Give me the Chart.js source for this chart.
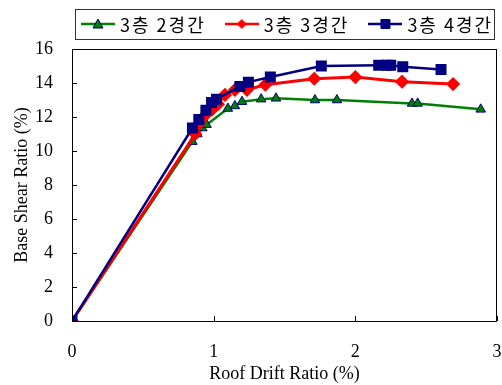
<!DOCTYPE html>
<html>
<head>
<meta charset="utf-8">
<script src="https://cdn.jsdelivr.net/npm/chart.js@4.4.0/dist/chart.umd.min.js"></script>
<style>
  html, body { margin: 0; padding: 0; background: #fff; }
  #wrap { width: 502px; height: 385px; }
</style>
</head>
<body>
<div id="wrap"><canvas id="chart"></canvas></div>
<script>
// 3층 2경간
const drift2 = [0, 0.85, 0.885, 0.92, 0.95, 1.10, 1.15, 1.20, 1.335, 1.44, 1.715, 1.87, 2.40, 2.44, 2.885];
const shear2 = [0, 10.55, 11.0, 11.35, 11.55, 12.5, 12.65, 12.9, 13.05, 13.1, 13.0, 13.0, 12.8, 12.8, 12.45];
// 3층 3경간
const drift3 = [0, 0.87, 0.895, 0.94, 0.99, 1.03, 1.08, 1.15, 1.235, 1.365, 1.71, 2.0, 2.33, 2.69];
const shear3 = [0, 11.0, 11.6, 12.1, 12.45, 12.75, 13.3, 13.6, 13.6, 13.9, 14.25, 14.35, 14.08, 13.94];
// 3층 4경간
const drift4 = [0, 0.85, 0.895, 0.945, 0.985, 1.02, 1.185, 1.245, 1.40, 1.76, 2.165, 2.225, 2.25, 2.335, 2.605];
const shear4 = [0, 11.35, 11.85, 12.4, 12.85, 13.05, 13.8, 14.05, 14.35, 15.0, 15.05, 15.05, 15.05, 14.95, 14.8];

const seriesLabels = ['3층 2경간', '3층 3경간', '3층 4경간'];
const xTicks = [0, 1, 2, 3];
const yTicks = [0, 2, 4, 6, 8, 10, 12, 14, 16];

const toPoints = (xs, ys) => xs.map((x, i) => ({ x: x, y: ys[i] }));

// line + marker picture for the legend
function legendIcon(color, fill, style) {
    const c = document.createElement('canvas');
    c.width = 34; c.height = 14;
    const g = c.getContext('2d');
    g.strokeStyle = color;
    g.lineWidth = 2.5;
    g.beginPath(); g.moveTo(0, 7); g.lineTo(34, 7); g.stroke();
    g.fillStyle = fill;
    g.strokeStyle = '#000080';
    g.lineWidth = 1;
    g.beginPath();
    if (style === 'triangle') {
        g.moveTo(17, 2); g.lineTo(22, 11); g.lineTo(12, 11); g.closePath();
    } else if (style === 'rectRot') {
        g.strokeStyle = color;
        g.moveTo(17, 2.5); g.lineTo(21.5, 7); g.lineTo(17, 11.5); g.lineTo(12.5, 7); g.closePath();
    } else {
        g.rect(12.5, 2.5, 9, 9);
    }
    g.fill(); g.stroke();
    return c;
}

const icons = [
    legendIcon('#008000', '#008000', 'triangle'),
    legendIcon('#ff0000', '#ff0000', 'rectRot'),
    legendIcon('#000080', '#000080', 'rect')
];

// plot frame, inward ticks and the boxed legend row
const frame = {
    id: 'frame',
    afterDraw(chart) {
        const { ctx, chartArea: a, scales } = chart;
        ctx.save();
        ctx.strokeStyle = '#000';
        ctx.lineWidth = 1;
        ctx.strokeRect(Math.round(a.left) + 0.5, Math.round(a.top) + 0.5, Math.round(a.right - a.left) - 1, Math.round(a.bottom - a.top));
        ctx.beginPath();
        xTicks.forEach(v => {
            const px = Math.round(scales.x.getPixelForValue(v)) + 0.5;
            ctx.moveTo(px, a.bottom); ctx.lineTo(px, a.bottom - 5);
        });
        yTicks.forEach(v => {
            const py = Math.round(scales.y.getPixelForValue(v)) + 0.5;
            ctx.moveTo(a.left, py); ctx.lineTo(a.left + 5, py);
        });
        ctx.stroke();

        ctx.font = '18px "Noto Sans CJK KR", sans-serif';
        ctx.letterSpacing = '2px';
        ctx.textBaseline = 'middle';
        ctx.fillStyle = '#000';
        const cy = 24;
        let x = 81;
        chart.data.datasets.forEach((ds, i) => {
            ctx.drawImage(icons[i], x, cy - 7);
            x += 39;
            ctx.fillText(ds.label, x, cy + 1);
            x += ctx.measureText(ds.label).width + 19;
        });
        ctx.strokeStyle = '#333';
        ctx.strokeRect(75.5, 9.5, Math.round(x - 19 - 75) + 1, 30);
        ctx.restore();
    }
};

new Chart(document.getElementById('chart'), {
    type: 'line',
    data: {
        datasets: [
            {
                label: seriesLabels[0],
                data: toPoints(drift2, shear2),
                borderColor: '#008000',
                backgroundColor: '#008000',
                borderWidth: 2.5,
                pointStyle: 'triangle',
                pointRadius: 5.5,
                pointBorderColor: '#000080',
                pointBorderWidth: 1,
                order: 3
            },
            {
                label: seriesLabels[1],
                data: toPoints(drift3, shear3),
                borderColor: '#ff0000',
                backgroundColor: '#ff0000',
                borderWidth: 3,
                pointStyle: 'rectRot',
                pointRadius: 5,
                pointBorderColor: '#ff0000',
                order: 2
            },
            {
                label: seriesLabels[2],
                data: toPoints(drift4, shear4),
                borderColor: '#000080',
                backgroundColor: '#000080',
                borderWidth: 2.5,
                pointStyle: 'rect',
                pointRadius: 6,
                pointBorderColor: '#000080',
                order: 1
            }
        ]
    },
    options: {
        responsive: true,
        maintainAspectRatio: false,
        animation: false,
        layout: { autoPadding: false, padding: { top: 0, right: 5, left: 0, bottom: 0 } },
        plugins: {
            tooltip: { enabled: false },
            legend: { display: false }
        },
        scales: {
            x: {
                type: 'linear',
                min: 0,
                max: 3,
                afterBuildTicks: s => { s.ticks = xTicks.map(v => ({ value: v })); },
                afterFit: s => { s.height = 64; s.paddingLeft = 0; s.paddingRight = 0; },
                grid: { display: false, drawTicks: false },
                border: { display: false },
                ticks: {
                    color: '#000',
                    padding: 20,
                    maxRotation: 0,
                    font: { family: '"Liberation Serif", serif', size: 18 }
                },
                title: {
                    display: true,
                    text: 'Roof Drift Ratio (%)',
                    color: '#000',
                    padding: { top: 0, bottom: 0 },
                    font: { family: '"Liberation Serif", serif', size: 18 }
                }
            },
            y: {
                type: 'linear',
                min: 0,
                max: 16,
                afterBuildTicks: s => { s.ticks = yTicks.map(v => ({ value: v })); },
                afterFit: s => { s.width = 72; s.paddingTop = 49; s.paddingBottom = 0; },
                grid: { display: false, drawTicks: false },
                border: { display: false },
                ticks: {
                    color: '#000',
                    padding: 19,
                    font: { family: '"Liberation Serif", serif', size: 18 }
                },
                title: {
                    display: true,
                    text: 'Base Shear Ratio (%)',
                    color: '#000',
                    padding: { top: 11, bottom: 0 },
                    font: { family: '"Liberation Serif", serif', size: 18 }
                }
            }
        }
    },
    plugins: [frame]
});
</script>
</body>
</html>
